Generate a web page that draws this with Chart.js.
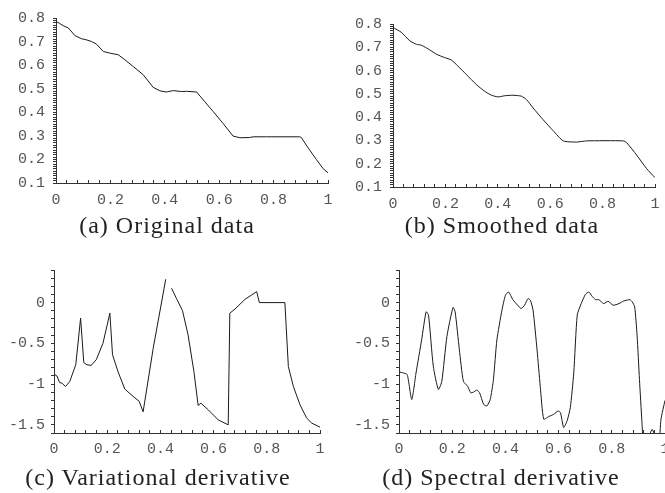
<!DOCTYPE html>
<html>
<head>
<meta charset="utf-8">
<script src="https://cdn.jsdelivr.net/npm/chart.js@4.4.1/dist/chart.umd.min.js"></script>
<style>
  html, body { margin: 0; padding: 0; background: #fff; overflow: hidden; }
  body { width: 665px; height: 493px; position: relative; }
  .box { position: absolute; }
  .cap { position: absolute; text-align: center; font-family: "Liberation Serif", serif; font-size: 24px; line-height: 26px; letter-spacing: 1px; color: #222; white-space: nowrap; }
</style>
</head>
<body>
<div class="box" style="left:0;top:0;width:335px;height:215px"><canvas id="chartA"></canvas></div>
<div class="box" style="left:330px;top:0;width:335px;height:215px"><canvas id="chartB"></canvas></div>
<div class="box" style="left:0;top:240px;width:335px;height:225px"><canvas id="chartC"></canvas></div>
<div class="box" style="left:330px;top:240px;width:345px;height:225px"><canvas id="chartD"></canvas></div>

<div class="cap" style="left:27px;width:280px;top:212px">(a) Original data</div>
<div class="cap" style="left:362px;width:280px;top:212px">(b) Smoothed data</div>
<div class="cap" style="left:8px;width:300px;top:464px">(c) Variational derivative</div>
<div class="cap" style="left:351px;width:300px;top:464px">(d) Spectral derivative</div>

<script>
// (a) Original data
const xOriginal = [0, 0.012, 0.027, 0.045, 0.07, 0.094, 0.11, 0.131, 0.149, 0.174, 0.198, 0.229, 0.253, 0.284, 0.321, 0.357, 0.382, 0.406, 0.431, 0.461, 0.48, 0.517, 0.547, 0.578, 0.614, 0.651, 0.676, 0.712, 0.725, 0.774, 0.896, 0.902, 0.927, 0.957, 0.982, 1.0];
const yOriginal = [0.785, 0.778, 0.767, 0.758, 0.725, 0.712, 0.708, 0.70, 0.689, 0.658, 0.651, 0.644, 0.623, 0.594, 0.559, 0.506, 0.491, 0.486, 0.492, 0.488, 0.489, 0.486, 0.445, 0.403, 0.353, 0.299, 0.292, 0.293, 0.296, 0.296, 0.296, 0.293, 0.249, 0.2, 0.161, 0.143];

// (b) Smoothed data
const xSmooth = [0, 0.032, 0.064, 0.089, 0.108, 0.14, 0.166, 0.197, 0.223, 0.248, 0.28, 0.318, 0.35, 0.376, 0.401, 0.427, 0.459, 0.49, 0.51, 0.535, 0.573, 0.611, 0.65, 0.701, 0.739, 0.879, 0.892, 0.93, 0.968, 1.0];
const ySmooth = [0.785, 0.764, 0.728, 0.713, 0.709, 0.689, 0.67, 0.656, 0.645, 0.619, 0.583, 0.54, 0.511, 0.494, 0.487, 0.492, 0.494, 0.49, 0.475, 0.439, 0.389, 0.342, 0.298, 0.293, 0.298, 0.298, 0.29, 0.237, 0.179, 0.14];

// (c) Variational derivative (null = gap in the curve)
const xVariational = [0, 0.011, 0.021, 0.031, 0.043, 0.059, 0.082, 0.1, 0.112, 0.124, 0.14, 0.159, 0.184, 0.21, 0.22, 0.241, 0.266, 0.297, 0.32, 0.335, 0.373, 0.42, 0.431, 0.442, 0.46, 0.483, 0.504, 0.526, 0.542, 0.552, 0.58, 0.617, 0.655, 0.661, 0.68, 0.718, 0.762, 0.772, 0.868, 0.881, 0.9, 0.925, 0.95, 0.969, 1.0];
const yVariational = [-0.879, -0.90, -0.98, -0.99, -1.03, -0.97, -0.76, -0.19, -0.736, -0.764, -0.77, -0.70, -0.5, -0.13, -0.64, -0.85, -1.06, -1.15, -1.21, -1.34, -0.56, 0.286, null, 0.176, 0.053, -0.098, -0.396, -0.846, -1.263, -1.234, -1.316, -1.438, -1.5, -0.13, -0.08, 0.04, 0.135, 0, 0, -0.785, -1.03, -1.255, -1.418, -1.479, -1.528];

// (d) Spectral derivative (values below -1.6 are clipped by the axis)
const xSpectral = [0, 0.016, 0.031, 0.048, 0.064, 0.085, 0.102, 0.111, 0.129, 0.148, 0.161, 0.18, 0.203, 0.211, 0.227, 0.242, 0.258, 0.27, 0.28, 0.293, 0.303, 0.318, 0.33, 0.343, 0.355, 0.368, 0.387, 0.4, 0.412, 0.428, 0.446, 0.459, 0.472, 0.485, 0.494, 0.504, 0.519, 0.531, 0.544, 0.563, 0.582, 0.598, 0.607, 0.619, 0.632, 0.644, 0.657, 0.67, 0.685, 0.701, 0.714, 0.726, 0.739, 0.751, 0.77, 0.786, 0.805, 0.827, 0.845, 0.868, 0.877, 0.886, 0.895, 0.904, 0.913, 0.922, 0.935, 0.945, 0.952, 0.958, 0.967, 0.978, 0.985, 1.0];
const ySpectral = [-0.85, -0.863, -0.884, -1.19, -0.863, -0.458, -0.113, -0.154, -0.782, -1.066, -0.965, -0.418, -0.06, -0.113, -0.58, -0.965, -1.026, -1.107, -1.098, -1.074, -1.107, -1.248, -1.269, -1.188, -0.944, -0.458, -0.093, 0.089, 0.13, 0.036, -0.032, -0.073, -0.032, 0.049, 0.028, -0.093, -0.58, -1.026, -1.43, -1.398, -1.37, -1.33, -1.35, -1.532, -1.45, -1.289, -0.863, -0.154, -0.012, 0.101, 0.13, 0.077, 0.036, 0.036, -0.012, 0.016, -0.032, -0.012, 0.02, 0.036, 0.008, -0.053, -0.4, -0.944, -1.45, -1.9, -1.75, -1.6, -1.555, -1.6, -1.9, -1.75, -1.43, -1.2];

// x ticks shared by all four panels
const xMin = 0, xMax = 1, xStep = 0.04, xLabelStep = 0.2;

function isMultiple(v, step) {
    const r = v / step;
    return Math.abs(r - Math.round(r)) < 1e-6;
}

function makeChart(id, xs, ys, opt) {
    const pts = xs.map((x, i) => ({ x: x, y: ys[i] }));
    const tickFont = { family: "'Liberation Mono', monospace", size: 15 };
    const yGrid = { display: true, drawOnChartArea: false, drawTicks: true, tickLength: 3, color: '#333', tickColor: '#333' };
    // x ticks point up into the plot, like the original
    const xGrid = { display: true, drawOnChartArea: false, drawTicks: true, tickLength: -3, color: '#333', tickColor: '#333' };
    return new Chart(document.getElementById(id), {
        type: 'line',
        data: {
            datasets: [{
                data: pts,
                borderColor: '#1a1a1a',
                borderWidth: 1,
                pointRadius: 0,
                tension: opt.tension || 0,
                spanGaps: false,
                fill: false
            }]
        },
        options: {
            responsive: true,
            maintainAspectRatio: false,
            animation: false,
            events: [],
            layout: { padding: opt.padding },
            plugins: { legend: { display: false }, tooltip: { enabled: false } },
            scales: {
                x: {
                    type: 'linear',
                    min: xMin, max: xMax,
                    grid: xGrid,
                    border: { display: true, color: '#333', width: 1 },
                    ticks: {
                        stepSize: xStep, autoSkip: false, maxRotation: 0, padding: opt.xPad,
                        font: tickFont, color: '#555',
                        callback: v => isMultiple(v, xLabelStep) ? String(Math.round(v * 10) / 10) : ''
                    },
                    afterFit: s => { s.height = opt.xHeight; s.paddingLeft = 0; s.paddingRight = 0; }
                },
                y: {
                    type: 'linear',
                    min: opt.yMin, max: opt.yMax,
                    grid: yGrid,
                    border: { display: true, color: '#333', width: 1 },
                    ticks: {
                        stepSize: opt.yStep, autoSkip: false, padding: opt.yPad,
                        font: tickFont, color: '#555',
                        callback: v => isMultiple(v, opt.yLabelStep) ? String(Math.round(v * 10) / 10) : ''
                    },
                    afterFit: s => { s.width = opt.yWidth; s.paddingTop = 0; s.paddingBottom = 0; }
                }
            }
        }
    });
}

makeChart('chartA', xOriginal, yOriginal, {
    yMin: 0.1, yMax: 0.8, yStep: 0.01, yLabelStep: 0.1,
    yWidth: 56, xHeight: 32, xPad: 11, yPad: 8,
    padding: { left: 0, right: 7, top: 18, bottom: 0 }
});
makeChart('chartB', xSmooth, ySmooth, {
    yMin: 0.1, yMax: 0.8, yStep: 0.01, yLabelStep: 0.1, tension: 0.2,
    yWidth: 63, xHeight: 28, xPad: 11, yPad: 8,
    padding: { left: 0, right: 10, top: 24, bottom: 0 }
});
makeChart('chartC', xVariational, yVariational, {
    yMin: -1.6, yMax: 0.4, yStep: 0.1, yLabelStep: 0.5,
    yWidth: 54, xHeight: 32, xPad: 10, yPad: 6,
    padding: { left: 0, right: 15, top: 30, bottom: 0 }
});
makeChart('chartD', xSpectral, ySpectral, {
    yMin: -1.6, yMax: 0.4, yStep: 0.1, yLabelStep: 0.5, tension: 0.2,
    yWidth: 69, xHeight: 32, xPad: 10, yPad: 6,
    padding: { left: 0, right: 10, top: 30, bottom: 0 }
});
</script>
</body>
</html>
